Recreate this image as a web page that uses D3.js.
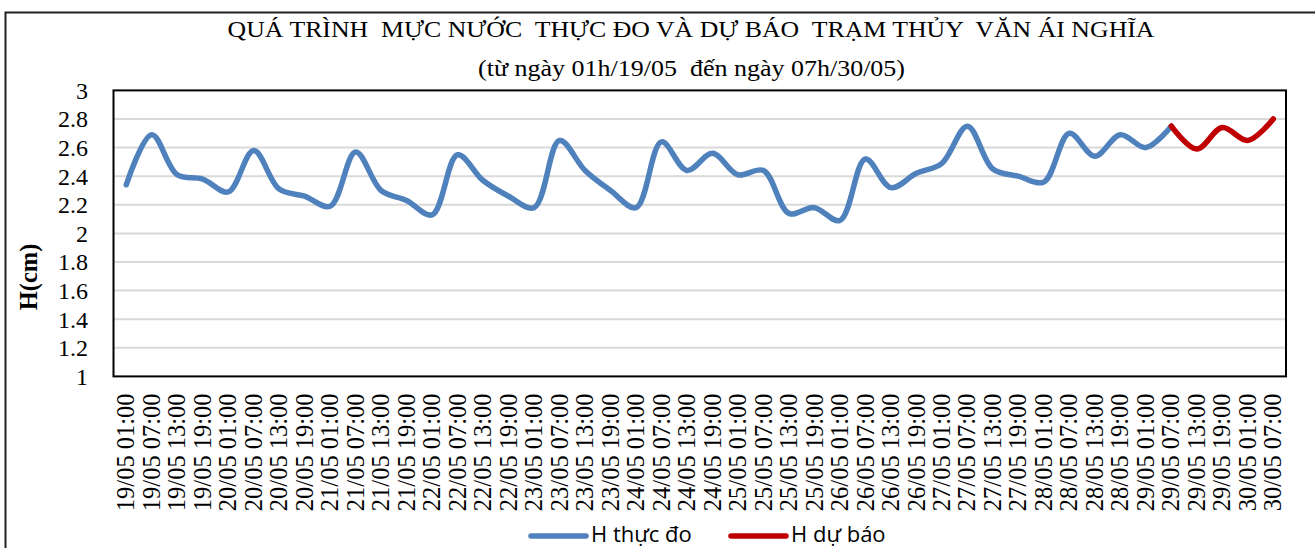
<!DOCTYPE html>
<html>
<head>
<meta charset="utf-8">
<script src="https://cdn.jsdelivr.net/npm/d3@7"></script>
<style>
  body { margin: 0; background: #fff; }
  svg { display: block; }
</style>
</head>
<body>
<svg id="chart"></svg>
<script>
// categories, every 6 hours
let days = ["19/05","20/05","21/05","22/05","23/05","24/05","25/05","26/05","27/05","28/05","29/05","30/05"];
let hours = ["01:00","07:00","13:00","19:00"];
let labels = [];
days.forEach(function(d){ hours.forEach(function(h){ labels.push(d + " " + h) }) });
labels = labels.slice(0, 46);

// H thuc do (measured)
let thucDo = [2.34,2.69,2.41,2.38,2.29,2.58,2.31,2.26,2.19,2.57,
              2.30,2.23,2.13,2.55,2.37,2.26,2.18,2.65,2.44,2.30,
              2.18,2.64,2.44,2.56,2.41,2.44,2.14,2.18,2.09,2.52,
              2.32,2.42,2.49,2.75,2.45,2.40,2.36,2.70,2.54,2.69,
              2.60,2.75];
// H du bao (forecast), starts at 29/05 07:00
let duBao = [2.75,2.59,2.74,2.65,2.80];
let duBaoStart = 41;

let yTicks = [1,1.2,1.4,1.6,1.8,2,2.2,2.4,2.6,2.8,3];

let W = 1315, H = 548;
let plot = {left:113.5, right:1286, top:90.4, bottom:376.4};
let serif = "'Liberation Serif', 'Times New Roman', serif";

let svg = d3.select("#chart").attr("width", W).attr("height", H);

// outer frame
svg.append("rect")
    .attr("x", 5.5).attr("y", 12.5)
    .attr("width", W + 10).attr("height", H + 10)
    .attr("fill", "none").attr("stroke", "#222").attr("stroke-width", 2)

let x = d3.scaleBand().domain(labels).range([plot.left, plot.right]);
let y = d3.scaleLinear().domain([1, 3]).range([plot.bottom, plot.top]);

// gridlines
svg.append("g")
    .selectAll("line")
    .data(yTicks.slice(1, -1))
    .enter().append("line")
    .attr("x1", plot.left).attr("x2", plot.right)
    .attr("y1", function(d){ return y(d) }).attr("y2", function(d){ return y(d) })
    .attr("stroke", "#d9d9d9").attr("stroke-width", 2)

// y axis labels
let yAxis = d3.axisLeft(y).tickValues(yTicks).tickSize(0).tickPadding(0)
    .tickFormat(function(d){ return String(+d.toFixed(1)) });
let gy = svg.append("g").attr("transform", "translate(88,0)").call(yAxis);
gy.select(".domain").remove();
gy.selectAll("text")
    .attr("font-family", serif)
    .attr("font-size", 24).attr("fill", "#000").attr("dy", "0.33em")

// x axis labels
let xAxis = d3.axisBottom(x).tickSize(0).tickPadding(0);
let gx = svg.append("g").attr("transform", "translate(0," + plot.bottom + ")").call(xAxis);
gx.select(".domain").remove();
gx.selectAll("text")
    .attr("font-family", serif)
    .attr("font-size", 24.5).attr("fill", "#000")
    .attr("text-anchor", "end")
    .attr("transform", "translate(0,17) rotate(-90)")
    .attr("x", 0).attr("y", 0).attr("dy", "0.33em")

// plot border
svg.append("rect")
    .attr("x", plot.left).attr("y", plot.top)
    .attr("width", plot.right - plot.left).attr("height", plot.bottom - plot.top)
    .attr("fill", "none").attr("stroke", "#000").attr("stroke-width", 2)

let cx = function(i){ return x(labels[i]) + x.bandwidth() / 2 };
let line = d3.line()
    .x(function(d){ return cx(d.i) })
    .y(function(d){ return y(d.v) })
    .curve(d3.curveCatmullRom.alpha(0.5));

let blueData = thucDo.map(function(v, i){ return {i:i, v:v} });
let redData = duBao.map(function(v, i){ return {i:i + duBaoStart, v:v} });

svg.append("path").datum(blueData).attr("d", line)
    .attr("fill", "none").attr("stroke", "#4f81bd").attr("stroke-width", 5.5)
    .attr("stroke-linecap", "round")
svg.append("path").datum(redData).attr("d", line)
    .attr("fill", "none").attr("stroke", "#c00000").attr("stroke-width", 5.5)
    .attr("stroke-linecap", "round")

// titles
svg.append("text")
    .attr("x", 691).attr("y", 37)
    .attr("text-anchor", "middle")
    .attr("font-family", serif)
    .attr("font-size", 23.5)
    .attr("textLength", 927).attr("lengthAdjust", "spacingAndGlyphs")
    .attr("xml:space", "preserve")
    .text("QUÁ TRÌNH  MỰC NƯỚC  THỰC ĐO VÀ DỰ BÁO  TRẠM THỦY  VĂN ÁI NGHĨA")
svg.append("text")
    .attr("x", 691.5).attr("y", 76)
    .attr("text-anchor", "middle")
    .attr("font-family", serif)
    .attr("font-size", 23.5)
    .attr("textLength", 427).attr("lengthAdjust", "spacingAndGlyphs")
    .attr("xml:space", "preserve")
    .text("(từ ngày 01h/19/05  đến ngày 07h/30/05)")

// y title
svg.append("text")
    .attr("transform", "translate(37,277) rotate(-90)")
    .attr("text-anchor", "middle")
    .attr("font-family", serif)
    .attr("font-weight", "bold")
    .attr("font-size", 24.5)
    .text("H(cm)")

// legend
let legend = [
  {name:"H thực đo", color:"#4f81bd", x:531},
  {name:"H dự báo", color:"#c00000", x:731}
];
legend.forEach(function(d){
  svg.append("line")
      .attr("x1", d.x).attr("x2", d.x + 55)
      .attr("y1", 536).attr("y2", 536)
      .attr("stroke", d.color).attr("stroke-width", 5.5)
      .attr("stroke-linecap", "round")
  svg.append("text")
      .attr("x", d.x + 60).attr("y", 542)
      .attr("font-family", "'Open Sans', 'Noto Sans', sans-serif")
      .attr("font-size", 22)
      .attr("fill", "#000")
      .text(d.name)
})
</script>
</body>
</html>
